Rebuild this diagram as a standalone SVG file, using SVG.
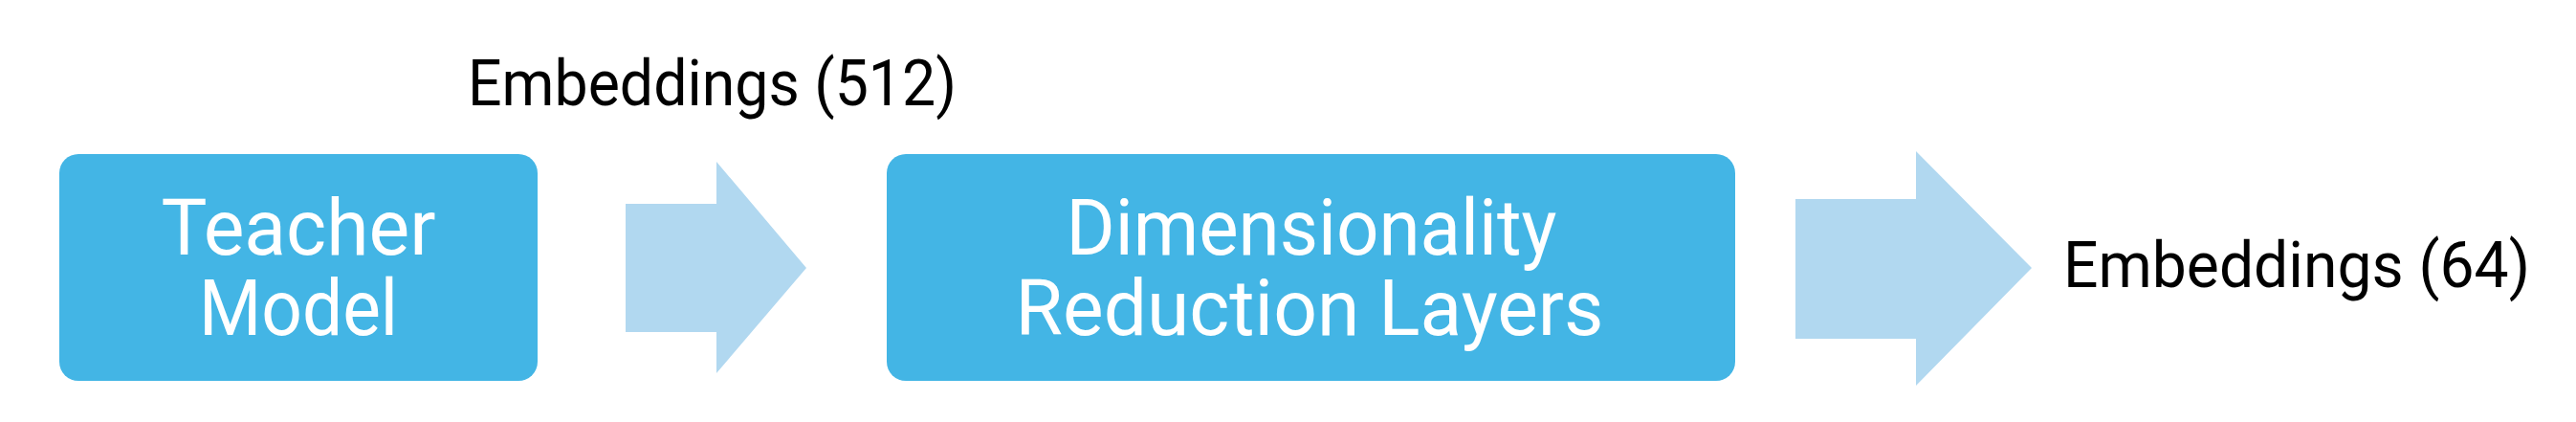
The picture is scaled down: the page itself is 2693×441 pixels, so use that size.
<svg xmlns="http://www.w3.org/2000/svg" width="2693" height="441" viewBox="0 0 2693 441">
<style>
.box{fill:#43B5E5}
.arrow{fill:#B1D8F0}
.node-text{font-family:Roboto,"Liberation Sans",sans-serif;font-size:82px;fill:#ffffff;text-anchor:middle}
.label{font-family:Roboto,"Liberation Sans",sans-serif;font-size:66px;fill:#000000}
</style>
<rect width="2693" height="441" fill="#ffffff"/>
<g id="teacher-model">
<rect class="box" x="62" y="161" width="500" height="237" rx="20" ry="20"/>
<text class="node-text" x="312" y="266" textLength="287" lengthAdjust="spacingAndGlyphs">Teacher</text>
<text class="node-text" x="312" y="350" textLength="208" lengthAdjust="spacingAndGlyphs">Model</text>
</g>
<g id="dimensionality-reduction">
<rect class="box" x="927" y="161" width="887" height="237" rx="20" ry="20"/>
<text class="node-text" x="1371" y="266" textLength="513" lengthAdjust="spacingAndGlyphs">Dimensionality</text>
<text class="node-text" x="1369" y="350" textLength="615" lengthAdjust="spacingAndGlyphs">Reduction Layers</text>
</g>
<g id="connectors">
<polygon class="arrow" points="654,213 749,213 749,169 843,280 749,390 749,347 654,347"/>
<polygon class="arrow" points="1877,208 2003,208 2003,158 2124,280 2003,403 2003,354 1877,354"/>
</g>
<g id="labels">
<text class="label" x="489" y="110" textLength="511" lengthAdjust="spacingAndGlyphs">Embeddings (512)</text>
<text class="label" x="2157" y="300" textLength="488" lengthAdjust="spacingAndGlyphs">Embeddings (64)</text>
</g>
</svg>
